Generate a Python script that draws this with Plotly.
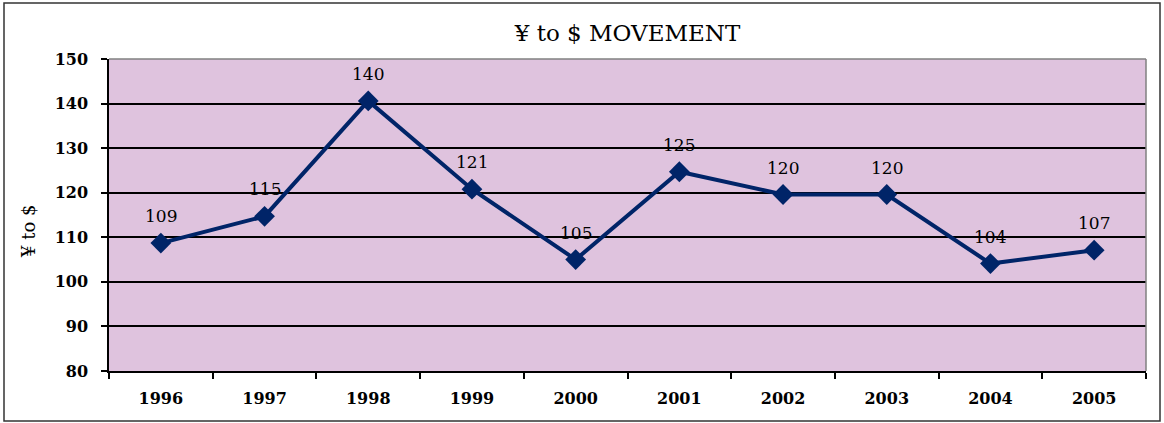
import plotly.graph_objects as go

years = ["1996", "1997", "1998", "1999", "2000", "2001", "2002", "2003", "2004", "2005"]
rates = [108.7, 114.7, 140.6, 120.8, 105.0, 124.7, 119.6, 119.6, 104.1, 107.1]
labels = ["109", "115", "140", "121", "105", "125", "120", "120", "104", "107"]
y_ticks = [80, 90, 100, 110, 120, 130, 140, 150]

NAVY = "#002468"
SERIF = "DejaVu Serif"

fig = go.Figure()
fig.add_trace(go.Scatter(
    x=years, y=rates, mode="lines+markers",
    line=dict(color=NAVY, width=4),
    marker=dict(symbol="diamond", size=16, color=NAVY),
    hoverinfo="skip", showlegend=False,
))

# data labels (category axis -> position by category index)
for i, (y, t) in enumerate(zip(rates, labels)):
    fig.add_annotation(x=i, y=y, text=t, showarrow=False, yshift=27,
                       font=dict(family=SERIF, size=17, color="black"))

W, H = 1164, 423
L, R, T, B = 109, 18, 59, 52
pw, ph = W - L - R, H - T - B

def px(xp):
    return (xp - L) / pw

def py(yp):
    return (H - B - yp) / ph

# outer border
fig.add_shape(type="rect", xref="paper", yref="paper",
              x0=px(4), x1=px(1160), y0=py(421), y1=py(3),
              line=dict(color="#333333", width=1.5))
# plot-area top and right gray borders
fig.add_shape(type="line", xref="paper", yref="paper", x0=0, x1=1, y0=1, y1=1,
              line=dict(color="#808080", width=1.5))
fig.add_shape(type="line", xref="paper", yref="paper", x0=1, x1=1, y0=0, y1=1,
              line=dict(color="#808080", width=1.5))

fig.add_annotation(xref="paper", yref="paper", x=px(28), y=py(232),
                   xanchor="center", yanchor="middle",
                   text="¥ to $", textangle=-90, showarrow=False,
                   font=dict(family=SERIF, size=18, color="black"))

fig.update_layout(
    width=W, height=H,
    margin=dict(l=L, r=R, t=T, b=B),
    paper_bgcolor="white",
    plot_bgcolor="#DFC3DE",
    title=dict(text="¥ to $ MOVEMENT", x=0.5, xref="paper", y=1 - 33 / H,
               yanchor="middle", xanchor="center",
               font=dict(family=SERIF, size=23, color="black")),
    xaxis=dict(
        type="category", range=[-0.5, 9.5], tickson="boundaries",
        ticks="outside", ticklen=6, tickwidth=1.5, tickcolor="black",
        showline=True, linecolor="black", linewidth=1.5,
        showgrid=False, ticklabelstandoff=12,
        tickfont=dict(family=SERIF, size=16, color="black", weight="bold"),
    ),
    yaxis=dict(
        range=[80, 150], tickvals=y_ticks, ticktext=[str(v) for v in y_ticks],
        ticks="outside", ticklen=6, tickwidth=1.5, tickcolor="black",
        showline=True, linecolor="black", linewidth=1.5,
        showgrid=True, gridcolor="black", gridwidth=1.5, zeroline=False,
        ticklabelstandoff=10,
        tickfont=dict(family=SERIF, size=16, color="black", weight="bold"),
    ),
)

fig.write_html("out.html", config={"displayModeBar": False},
               post_script="document.body.style.margin='0';")
